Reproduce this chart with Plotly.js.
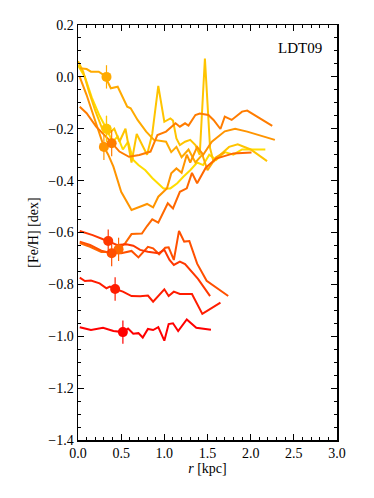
<!DOCTYPE html>
<html>
<head>
<meta charset="utf-8">
<script src="https://cdn.plot.ly/plotly-3.0.1.min.js"></script>
<style>
  html, body { margin: 0; padding: 0; background: #fff; }
  #chart { width: 374px; height: 498px; }
</style>
</head>
<body>
<div id="chart"></div>
<script>
// radial [Fe/H] profiles, one per galaxy (red -> yellow)
var colors = ['#ff0000', '#ff1c00', '#ff3800', '#ff5000', '#ff6800',
              '#ff7c00', '#ff9400', '#ffaa00', '#ffc400', '#ffdc00'];

var r0 = [0.02, 0.08, 0.15, 0.29, 0.41, 0.52, 0.58, 0.64, 0.70, 0.75, 0.81, 0.87, 0.93, 1.00, 1.05, 1.10, 1.16, 1.26, 1.37, 1.54];
var f0 = [-0.965, -0.97, -0.976, -0.967, -0.98, -0.984, -0.97, -0.99, -0.988, -1.005, -0.972, -0.976, -0.965, -1.017, -0.953, -0.95, -0.98, -0.935, -0.967, -0.975];

var r1 = [0.02, 0.08, 0.15, 0.25, 0.33, 0.37, 0.43, 0.52, 0.62, 0.72, 0.81, 0.87, 1.00, 1.05, 1.11, 1.18, 1.32, 1.44, 1.65];
var f1 = [-0.774, -0.787, -0.785, -0.796, -0.815, -0.809, -0.818, -0.828, -0.845, -0.846, -0.843, -0.867, -0.819, -0.845, -0.828, -0.837, -0.837, -0.914, -0.87];

var r2 = [0.02, 0.17, 0.29, 0.35, 0.45, 0.56, 0.64, 0.72, 0.81, 0.93, 1.00, 1.06, 1.11, 1.18, 1.24, 1.39, 1.53];
var f2 = [-0.594, -0.61, -0.626, -0.633, -0.648, -0.645, -0.651, -0.667, -0.674, -0.68, -0.667, -0.706, -0.725, -0.712, -0.722, -0.779, -0.845];

var r3 = [0.02, 0.14, 0.27, 0.39, 0.50, 0.62, 0.70, 0.81, 0.87, 0.94, 1.01, 1.05, 1.11, 1.17, 1.23, 1.29, 1.38, 1.49, 1.74];
var f3 = [-0.635, -0.648, -0.67, -0.68, -0.68, -0.671, -0.696, -0.655, -0.661, -0.684, -0.659, -0.657, -0.706, -0.594, -0.635, -0.633, -0.72, -0.786, -0.845];

var r4 = [0.02, 0.14, 0.27, 0.37, 0.48, 0.55, 0.62, 0.74, 0.80, 0.86, 0.93, 0.99, 1.04, 1.10, 1.18, 1.26, 1.32, 1.38, 1.48, 1.60, 1.80, 2.01];
var f4 = [-0.641, -0.655, -0.675, -0.675, -0.661, -0.64, -0.606, -0.604, -0.575, -0.549, -0.562, -0.52, -0.487, -0.507, -0.443, -0.43, -0.37, -0.41, -0.35, -0.315, -0.295, -0.292];

var r5 = [0.02, 0.10, 0.21, 0.36, 0.48, 0.59, 0.71, 0.84, 0.92, 1.02, 1.13, 1.18, 1.24, 1.28, 1.36, 1.41, 1.51, 1.57, 1.65, 1.70, 1.78, 1.90, 1.96, 2.25];
var f5 = [-0.115, -0.14, -0.192, -0.243, -0.288, -0.308, -0.301, -0.288, -0.224, -0.211, -0.179, -0.192, -0.179, -0.188, -0.147, -0.141, -0.147, -0.166, -0.201, -0.153, -0.166, -0.134, -0.13, -0.189];

var r6 = [0.02, 0.10, 0.20, 0.30, 0.35, 0.41, 0.50, 0.62, 0.74, 0.80, 0.87, 0.93, 1.03, 1.08, 1.14, 1.20, 1.26, 1.30, 1.38, 1.45, 1.55, 1.70, 1.82, 1.96, 2.28];
var f6 = [0.0, -0.07, -0.17, -0.27, -0.30, -0.346, -0.443, -0.513, -0.498, -0.49, -0.503, -0.462, -0.43, -0.372, -0.353, -0.37, -0.30, -0.33, -0.27, -0.30, -0.25, -0.21, -0.20, -0.211, -0.243];

var r7 = [0.02, 0.10, 0.15, 0.24, 0.31, 0.38, 0.46, 0.57, 0.61, 0.69, 0.79, 0.88, 1.02, 1.08, 1.14, 1.20, 1.28, 1.36, 1.44, 1.50, 1.60, 1.70];
var f7 = [0.033, 0.03, 0.02, 0.02, 0.005, -0.044, -0.038, -0.115, -0.121, -0.166, -0.211, -0.243, -0.25, -0.29, -0.27, -0.31, -0.28, -0.33, -0.30, -0.36, -0.31, -0.29];

var r8 = [0.00, 0.06, 0.13, 0.20, 0.28, 0.35, 0.42, 0.48, 0.55, 0.62, 0.68, 0.74, 0.80, 0.86, 0.93, 1.00, 1.07, 1.10, 1.14, 1.18, 1.24, 1.30, 1.36, 1.41, 1.47, 1.53, 1.57, 1.65, 1.75, 1.85, 2.00, 2.19];
var f8 = [0.06, 0.02, -0.06, -0.13, -0.20, -0.22, -0.20, -0.25, -0.20, -0.33, -0.22, -0.26, -0.30, -0.22, -0.035, -0.173, -0.16, -0.168, -0.237, -0.263, -0.25, -0.243, -0.263, -0.301, 0.071, -0.275, -0.327, -0.30, -0.27, -0.26, -0.28, -0.325];

var r9 = [0.00, 0.08, 0.16, 0.25, 0.33, 0.40, 0.46, 0.52, 0.58, 0.64, 0.70, 0.78, 0.86, 0.93, 0.99, 1.07, 1.15, 1.22, 1.30, 1.38, 1.45, 1.52, 1.60, 1.70, 1.80, 1.90, 2.00, 2.17];
var f9 = [0.045, 0.0, -0.08, -0.15, -0.20, -0.25, -0.23, -0.28, -0.25, -0.32, -0.34, -0.36, -0.39, -0.41, -0.43, -0.43, -0.41, -0.385, -0.36, -0.33, -0.34, -0.30, -0.32, -0.29, -0.30, -0.28, -0.28, -0.28];

// one point with error bar per galaxy
var markR = [0.52, 0.43, 0.35, 0.39, 0.47, 0.39, 0.30, 0.33, 0.33, 0.33];
var markF = [-0.984, -0.818, -0.633, -0.68, -0.665, -0.256, -0.27, 0.0, -0.2, -0.2];
var markErr = [0.045, 0.045, 0.045, 0.05, 0.045, 0.05, 0.05, 0.045, 0.05, 0.05];

var profR = [r0, r1, r2, r3, r4, r5, r6, r7, r8, r9];
var profF = [f0, f1, f2, f3, f4, f5, f6, f7, f8, f9];

var data = [];
// draw yellow first so red ends on top, like the reference
for (var i = profR.length - 1; i >= 0; i--) {
  data.push({
    x: profR[i], y: profF[i],
    type: 'scatter', mode: 'lines',
    line: {color: colors[i], width: 2},
    hoverinfo: 'skip'
  });
}
for (var j = markR.length - 1; j >= 0; j--) {
  data.push({
    x: [markR[j]], y: [markF[j]],
    type: 'scatter', mode: 'markers',
    marker: {color: colors[j], size: 10},
    error_y: {type: 'data', array: [markErr[j]], color: colors[j], thickness: 1.2, width: 0}
  });
}

var font = {family: 'Liberation Serif', size: 14, color: '#000'};

var layout = {
  width: 374, height: 498,
  margin: {l: 78, r: 37, t: 25, b: 58},
  showlegend: false,
  paper_bgcolor: '#fff', plot_bgcolor: '#fff',
  font: font,
  xaxis: {
    range: [0, 3.0], dtick: 0.5, tickformat: '.1f',
    ticks: 'inside', ticklen: 6, tickwidth: 1, tickcolor: '#000',
    minor: {dtick: 0.1, ticks: 'inside', ticklen: 3, tickcolor: '#000'},
    showline: true, linecolor: '#000', linewidth: 1.5, mirror: 'ticks',
    showgrid: false, zeroline: false,
    title: {text: '<i>r</i> [kpc]', font: font, standoff: 3}
  },
  yaxis: {
    range: [-1.4, 0.2], dtick: 0.2, tickformat: '.1f',
    ticks: 'inside', ticklen: 6, tickwidth: 1, tickcolor: '#000',
    minor: {dtick: 0.05, ticks: 'inside', ticklen: 3, tickcolor: '#000'},
    showline: true, linecolor: '#000', linewidth: 1.5, mirror: 'ticks',
    showgrid: false, zeroline: false,
    title: {text: '[Fe/H] [dex]', font: font, standoff: 6}
  },
  annotations: [{
    text: 'LDT09', xref: 'paper', yref: 'paper',
    x: 0.95, y: 0.945, xanchor: 'right', yanchor: 'middle',
    showarrow: false, font: {family: 'Liberation Serif', size: 15, color: '#000'}
  }]
};

Plotly.newPlot('chart', data, layout, {staticPlot: true});
</script>
</body>
</html>
